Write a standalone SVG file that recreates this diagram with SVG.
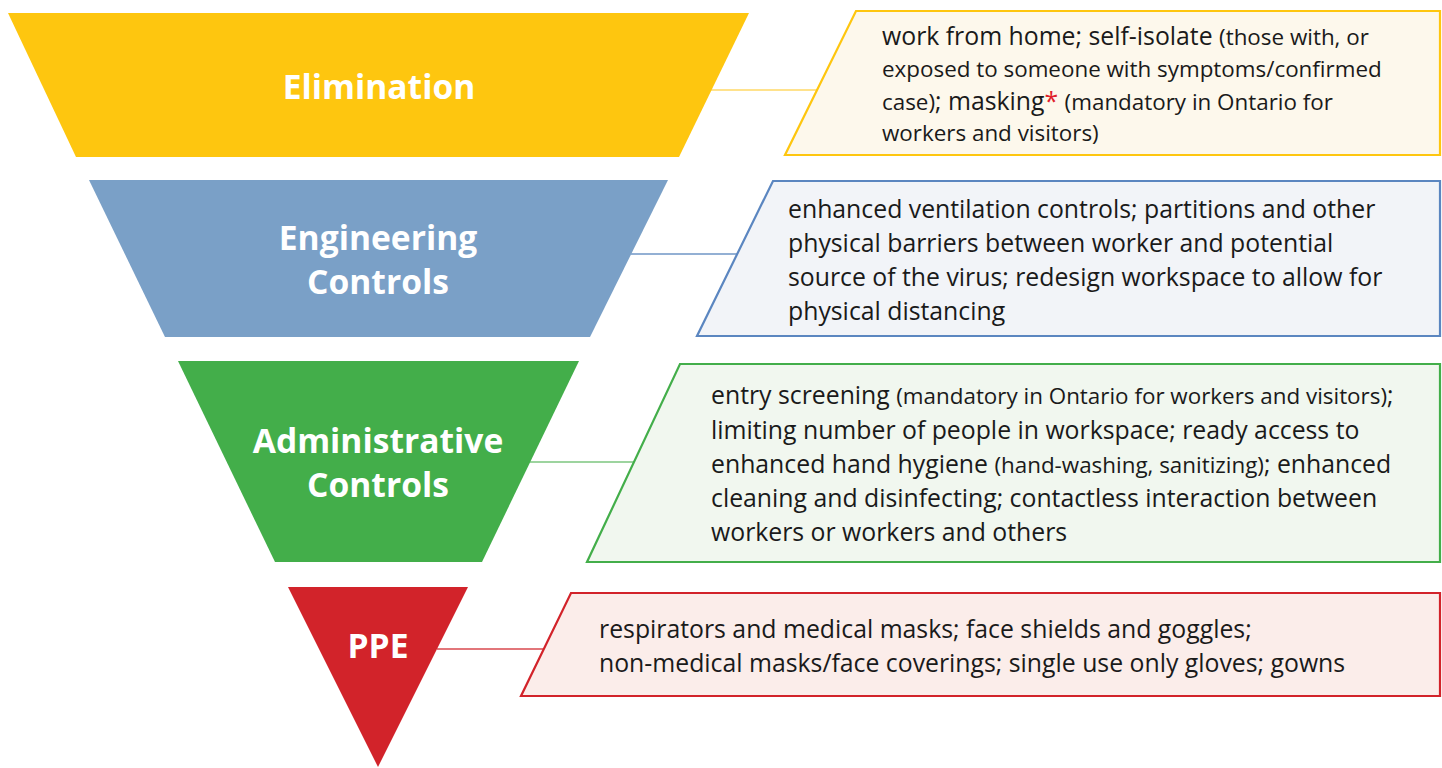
<svg xmlns="http://www.w3.org/2000/svg" width="1442" height="768" viewBox="0 0 1442 768">
  <style>
    .lbl { font-family: "Open Sans", "Liberation Sans", sans-serif; font-weight: bold; font-size: 33.6px; fill: #ffffff; text-anchor: middle; }
    .body { font-family: "Open Sans", "Liberation Sans", sans-serif; font-size: 24.8px; fill: #1a1a1a; }
    .sm { font-size: 22.4px; }
    .ast { fill: #e0202a; }
    .conn { stroke-width: 1.6; fill: none; }
    .panel { stroke-width: 2.2; }
  </style>
  <rect width="1442" height="768" fill="#ffffff"/>

  <!-- connectors between levels and their description panels -->
  <g id="connectors">
    <line class="conn" x1="711" y1="90" x2="817" y2="90" stroke="#ffd966"/>
    <line class="conn" x1="631" y1="254" x2="737" y2="254" stroke="#6f96c6"/>
    <line class="conn" x1="530" y1="462" x2="634" y2="462" stroke="#7cc67f"/>
    <line class="conn" x1="437" y1="649" x2="544" y2="649" stroke="#d9484e"/>
  </g>

  <!-- hierarchy levels -->
  <g id="level-elimination">
    <polygon points="8,13 749,13 679,157 76,157" fill="#fec60f"/>
    <text class="lbl" x="379" y="99">Elimination</text>
  </g>
  <g id="level-engineering">
    <polygon points="89,180 668,180 590,337 165,337" fill="#7aa0c7"/>
    <text class="lbl" x="378" y="250">Engineering</text>
    <text class="lbl" x="378" y="294">Controls</text>
  </g>
  <g id="level-administrative">
    <polygon points="178,361 579,361 482,562 275,562" fill="#43ae4a"/>
    <text class="lbl" x="378" y="453">Administrative</text>
    <text class="lbl" x="378" y="497">Controls</text>
  </g>
  <g id="level-ppe">
    <polygon points="288,587 468,587 378,767" fill="#d2232a"/>
    <text class="lbl" x="378" y="658">PPE</text>
  </g>

  <!-- description panels -->
  <g id="panel-elimination">
    <polygon class="panel" points="856,11 1440,11 1440,155 785,155" fill="#fdf8ec" stroke="#fec60f"/>
    <text class="body" x="882" y="45">work from home; self-isolate <tspan class="sm">(those with, or</tspan></text>
    <text class="body sm" x="882" y="77">exposed to someone with symptoms/confirmed</text>
    <text class="body" x="882" y="110"><tspan class="sm">case)</tspan>; masking<tspan class="ast">*</tspan> <tspan class="sm">(mandatory in Ontario for</tspan></text>
    <text class="body sm" x="882" y="141">workers and visitors)</text>
  </g>
  <g id="panel-engineering">
    <polygon class="panel" points="773,181 1440,181 1440,336 697,336" fill="#f2f4f8" stroke="#5b86c0"/>
    <text class="body" x="788" y="218">enhanced ventilation controls; partitions and other</text>
    <text class="body" x="788" y="252">physical barriers between worker and potential</text>
    <text class="body" x="788" y="286">source of the virus; redesign workspace to allow for</text>
    <text class="body" x="788" y="320">physical distancing</text>
  </g>
  <g id="panel-administrative">
    <polygon class="panel" points="680,364 1440,364 1440,562 587,562" fill="#f1f7ef" stroke="#43ae4a"/>
    <text class="body" x="711" y="404">entry screening <tspan class="sm">(mandatory in Ontario for workers and visitors)</tspan>;</text>
    <text class="body" x="711" y="439">limiting number of people in workspace; ready access to</text>
    <text class="body" x="711" y="473">enhanced hand hygiene <tspan class="sm">(hand-washing, sanitizing)</tspan>; enhanced</text>
    <text class="body" x="711" y="507">cleaning and disinfecting; contactless interaction between</text>
    <text class="body" x="711" y="541">workers or workers and others</text>
  </g>
  <g id="panel-ppe">
    <polygon class="panel" points="571,593 1440,593 1440,696 521,696" fill="#fbedea" stroke="#d2232a"/>
    <text class="body" x="599" y="638">respirators and medical masks; face shields and goggles;</text>
    <text class="body" x="599" y="672">non-medical masks/face coverings; single use only gloves; gowns</text>
  </g>
</svg>
